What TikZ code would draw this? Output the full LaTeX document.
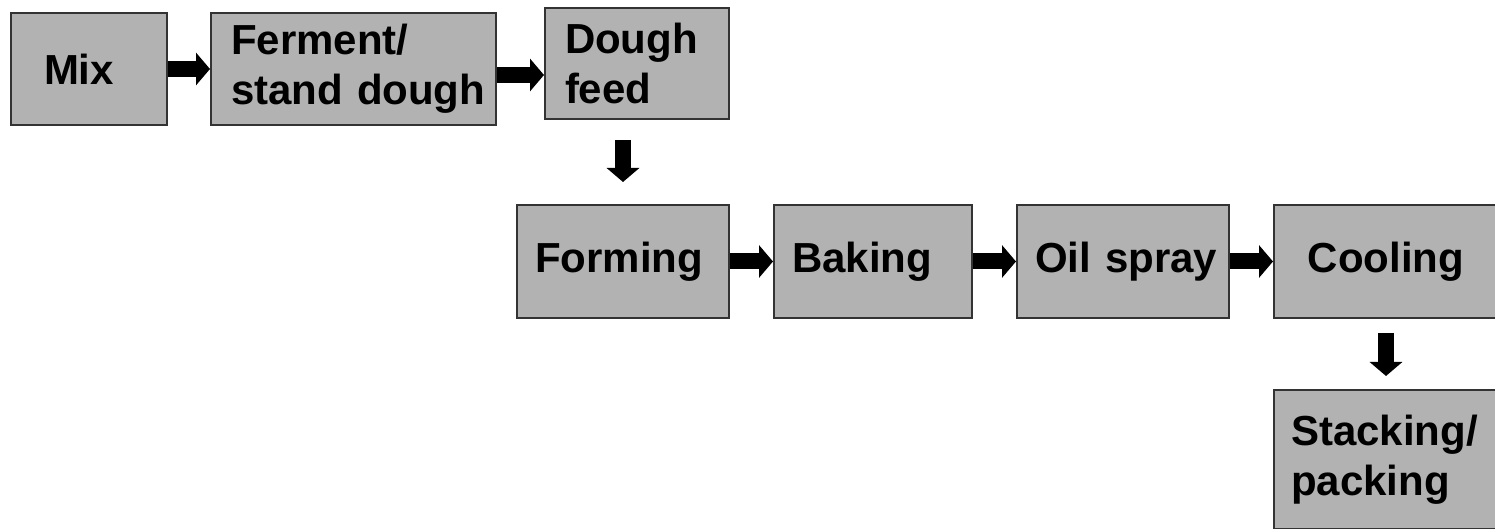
\documentclass[tikz,border=0pt]{standalone}
\usepackage{fontspec}
\setmainfont{Liberation Sans}
\usetikzlibrary{positioning, arrows.meta}

\begin{document}
\begin{tikzpicture}[
  stepbox/.style={draw=black!80, line width=1pt, fill=black!30, align=left, inner xsep=9pt, inner ysep=0pt, font=\fontsize{21}{25}\selectfont\bfseries, minimum height=56.5pt},
  arr/.style={-{Triangle[length=7pt, width=16pt]}, line width=8pt},
  downarr/.style={arr, shorten <=10pt, shorten >=11pt}
]
\useasboundingbox (0,0) rectangle (747.5pt,-264.5pt);
\node[stepbox, text width=45pt, inner xsep=16.5pt, minimum height=56pt] (mix) at (44.5pt,-34.5pt) {Mix};
\node[stepbox, text width=122.5pt, inner xsep=10pt, minimum height=56pt, right=21pt of mix] (fer) {Ferment/\\stand~dough};
\node[stepbox, text width=72pt, inner xsep=10pt, minimum height=55.5pt, right=23.5pt of fer, yshift=2.75pt] (feed) {Dough\\feed};
\node[stepbox, text width=88pt] (form) at (311.5pt,-130.75pt) {Forming};
\node[stepbox, text width=81pt, right=21.5pt of form] (bake) {Baking};
\node[stepbox, text width=88pt, right=21.5pt of bake] (oil) {Oil~spray};
\node[stepbox, text width=94pt, align=center, right=21.5pt of oil] (cool) {Cooling};
\node[stepbox, text width=95pt, inner xsep=8.5pt, minimum height=69.5pt, below=35pt of cool] (pack) {Stacking/\\packing};

\draw[arr] (mix) -- (fer);
\draw[arr] ([yshift=-3pt]fer.east) -- ([yshift=-3pt]fer.east -| feed.west);
\draw[downarr] (form.north |- feed.south) -- (form.north);
\draw[arr] (form) -- (bake);
\draw[arr] (bake) -- (oil);
\draw[arr] (oil) -- (cool);
\draw[downarr, shorten <=7pt, shorten >=6.5pt] (cool.south) -- (pack.north);
\end{tikzpicture}
\end{document}
